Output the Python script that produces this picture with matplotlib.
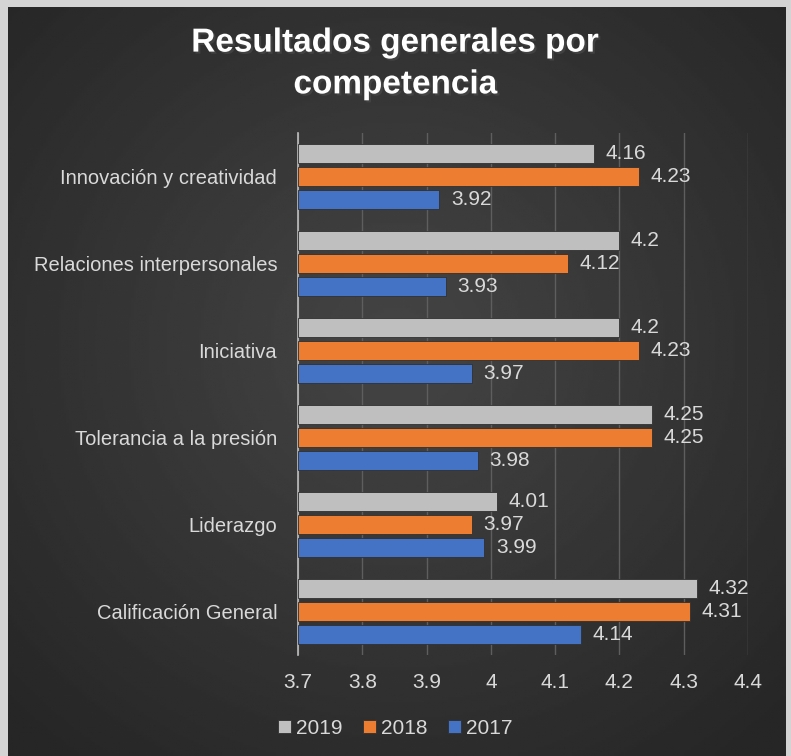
import numpy as np
import matplotlib.pyplot as plt
import matplotlib.patheffects as pe

# datos
categorias = ["Innovación y creatividad", "Relaciones interpersonales", "Iniciativa",
              "Tolerancia a la presión", "Liderazgo", "Calificación General"]
v2019 = [4.16, 4.2, 4.2, 4.25, 4.01, 4.32]
v2018 = [4.23, 4.12, 4.23, 4.25, 3.97, 4.31]
v2017 = [3.92, 3.93, 3.97, 3.98, 3.99, 4.14]
series = [("2019", v2019, "#bfbfbf"), ("2018", v2018, "#ed7d31"), ("2017", v2017, "#4472c4")]
xticks = [3.7, 3.8, 3.9, 4.0, 4.1, 4.2, 4.3, 4.4]
xlabels = ["3.7", "3.8", "3.9", "4", "4.1", "4.2", "4.3", "4.4"]

plt.rcParams['font.family'] = ['Liberation Sans', 'DejaVu Sans']
txt = "#d9d9d9"

fig = plt.figure(figsize=(7.91, 7.56), dpi=100)
fig.patch.set_facecolor("#d4d4d4")

# fondo oscuro con degradado radial
bg = fig.add_axes([8/791, 0, 778/791, 1 - 7/756])
yy, xx = np.mgrid[-1:1:300j, -1:1:300j]
r = np.sqrt(xx**2 + (yy + 0.1)**2)
bg.imshow(0.27 - 0.12 * np.clip(r, 0, 1.4) / 1.4, cmap="gray", vmin=0, vmax=1,
          aspect="auto", extent=[0, 1, 0, 1])
bg.set_axis_off()

ax = fig.add_axes([298/791, 1 - 655/756, 450/791, 522/756])
ax.set_facecolor("none")

n = len(categorias)
y = np.arange(n)[::-1]
paso = 0.26
alto = 0.22
for i, (nombre, vals, col) in enumerate(series):
    pos = y + paso * (1 - i)
    bars = ax.barh(pos, np.array(vals) - 3.7, left=3.7, height=alto, color=col,
                   edgecolor="#303030", linewidth=0.6, label=nombre, zorder=3)
    for b, v in zip(bars, vals):
        ax.text(v + 0.018, b.get_y() + b.get_height() / 2, f"{v:g}", va="center",
                ha="left", color=txt, fontsize=15)

ax.set_xlim(3.7, 4.4)
ax.set_ylim(-0.5, n - 0.5)
ax.set_xticks(xticks)
ax.set_xticklabels(xlabels)
ax.set_yticks(y)
ax.set_yticklabels(categorias)
ax.tick_params(axis="x", colors=txt, labelsize=15, length=0, pad=13)
ax.tick_params(axis="y", colors=txt, labelsize=14.5, length=0, pad=15)
ax.grid(axis="x", color="#5e5e5e", linewidth=1, zorder=0)
for s in ["top", "right", "bottom"]:
    ax.spines[s].set_visible(False)
ax.spines["left"].set_color("#bfbfbf")
ax.spines["left"].set_linewidth(1.2)

fig.text(0.5, 1 - 64/756, "Resultados generales por\ncompetencia", ha="center", va="center",
         color="white", fontsize=24, fontweight="bold", linespacing=1.45,
         path_effects=[pe.withSimplePatchShadow(offset=(1.5, -1.5), alpha=0.6)])

h, l = ax.get_legend_handles_labels()
leg = fig.legend(h, l, loc="center", bbox_to_anchor=(0.5, 1 - 728/756), ncol=3,
                 frameon=False, fontsize=15, handlelength=0.6, handleheight=0.6,
                 handletextpad=0.25, columnspacing=1.0)
for t in leg.get_texts():
    t.set_color(txt)

fig.savefig("out.png", dpi=100, facecolor=fig.get_facecolor())
